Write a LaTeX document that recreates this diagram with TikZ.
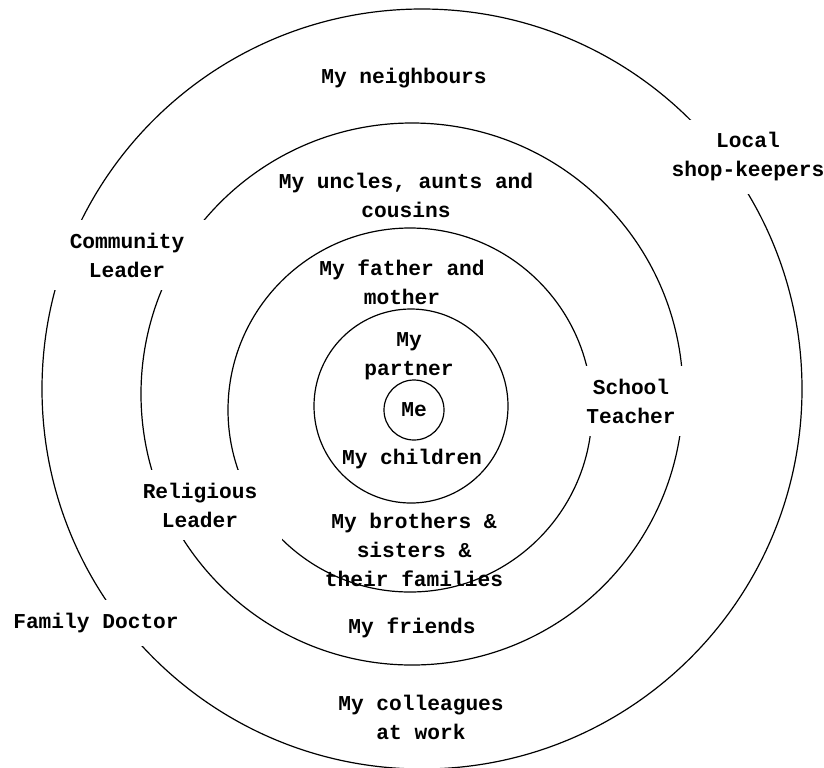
\documentclass[tikz,border=0pt]{standalone}
\usepackage{fontspec}
\setmonofont{Liberation Mono}
\usetikzlibrary{positioning}

\begin{document}
\begin{tikzpicture}[x=0.5pt,y=-0.5pt,
      font=\ttfamily\bfseries\fontsize{10.6pt}{14.5pt}\selectfont,
      ring style/.style={circle,draw=black,line width=0.6pt,inner sep=0pt},
      group style/.style={align=center,inner sep=0pt},
      gap style/.style={align=center,fill=white,inner xsep=12.5pt,inner ysep=6.5pt}
      ]
      \useasboundingbox (0,0) rectangle (824,767);

      % rings, from the outside in
      \node[ring style,minimum size=380pt] (outer) at (422,389) {};
      \node[ring style,minimum size=271pt] (wide) at (412,394) {};
      \node[ring style,minimum size=182pt] (close) at (410,410) {};
      \node[ring style,minimum size=97pt] (partner) at (411,406) {};
      \node[ring style,minimum size=30pt] (me) at (414,410) {Me};

      % groups inside the rings
      \node[group style] (neighbours) at (404,78) {My neighbours};
      \node[group style] (uncles) at (406,195) {My uncles, aunts and \\ cousins};
      \node[group style] (parents) at (402,282) {My father and \\ mother};
      \node[group style] (mypartner) at (409,356) {My \\ partner};
      \node[group style] (children) at (412,459) {My children};
      \node[group style] (siblings) at (414,550) {My brothers \& \\ sisters \& \\ their families};
      \node[group style] (friends) at (412,628) {My friends};
      \node[group style] (colleagues) at (421,717) {My colleagues \\ at work};

      % people that break the rings
      \node[gap style] (shop) at (748,157) {Local \\ shop-keepers};
      \node[gap style] (community) at (127,255) {Community \\ Leader};
      \node[gap style] (teacher) at (631,401) {School \\ Teacher};
      \node[gap style] (religious) at (200,505) {Religious \\ Leader};
      \node[gap style] (doctor) at (96,623) {Family Doctor};
    \end{tikzpicture}
\end{document}
